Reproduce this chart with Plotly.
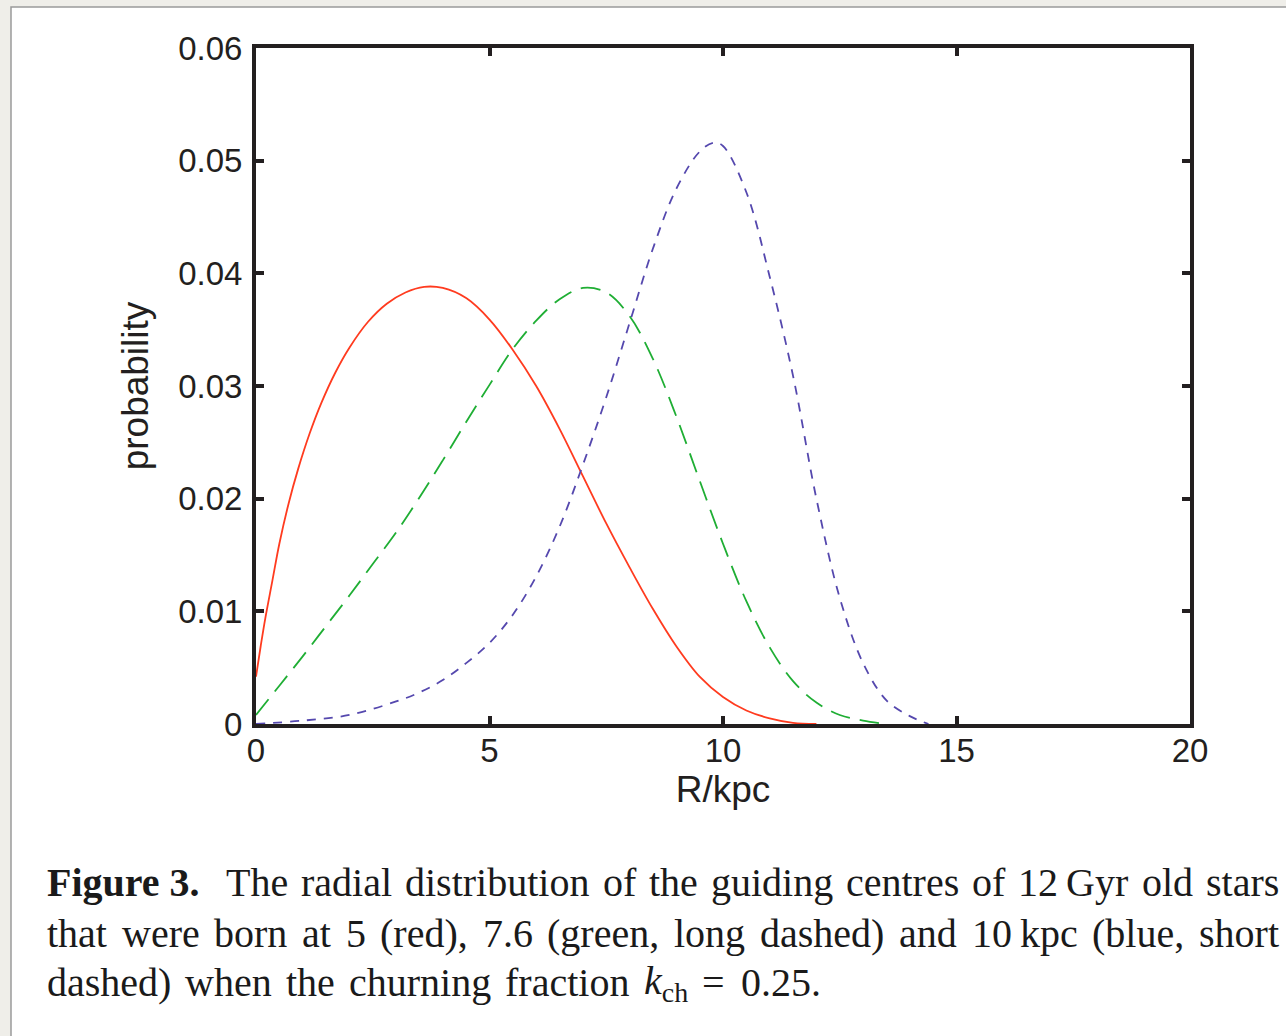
import plotly.graph_objects as go

# ---------------- data ----------------
red_R = [0.0, 0.1, 0.2, 0.35, 0.5, 0.7, 0.9, 1.15, 1.4, 1.7, 2.0, 2.4, 2.8, 3.2, 3.6, 4.0,
         4.5, 5.0, 5.5, 6.0, 6.5, 7.0, 7.5, 8.0, 8.5, 9.0, 9.5, 10.0, 10.5, 11.0, 11.5, 12.0]
red_p = [0.0042, 0.0069, 0.0094, 0.0127, 0.0160, 0.0196, 0.0226, 0.0258, 0.0285, 0.0312,
         0.0334, 0.0357, 0.0373, 0.0383, 0.0388, 0.0387, 0.0378, 0.0359, 0.0332, 0.0300,
         0.0262, 0.0220, 0.0178, 0.0139, 0.0102, 0.0069, 0.0042, 0.0024, 0.0012, 0.0005,
         0.0001, 0.0]

green_R = [0.0, 0.5, 1.0, 1.5, 2.0, 2.5, 3.0, 3.5, 4.0, 4.5, 5.0, 5.5, 6.0, 6.5, 7.0, 7.5,
           8.0, 8.5, 9.0, 9.5, 10.0, 10.5, 11.0, 11.5, 12.0, 12.5, 13.0, 13.5]
green_p = [0.0008, 0.0034, 0.0060, 0.0087, 0.0114, 0.0142, 0.0170, 0.0201, 0.0234, 0.0268,
           0.0301, 0.0333, 0.0358, 0.0377, 0.0387, 0.0383, 0.0362, 0.0324, 0.0273, 0.0216,
           0.0160, 0.0109, 0.0068, 0.0038, 0.0019, 0.0008, 0.0003, 0.0]

blue_R = [0.0, 1.0, 2.0, 3.0, 3.5, 4.0, 4.5, 5.0, 5.5, 6.0, 6.5, 7.0, 7.5, 8.0, 8.5, 9.0,
          9.5, 9.8, 10.0, 10.5, 11.0, 11.5, 12.0, 12.5, 13.0, 13.5, 14.0, 14.4]
blue_p = [0.0, 0.0003, 0.0008, 0.0020, 0.0028, 0.0039, 0.0054, 0.0072, 0.0097, 0.0131,
          0.0175, 0.0230, 0.0290, 0.0356, 0.0422, 0.0475, 0.0508, 0.0516, 0.0513, 0.0472,
          0.0397, 0.0309, 0.0200, 0.0112, 0.0054, 0.0021, 0.0007, 0.0]

x_tickvals = [0, 5, 10, 15, 20]
x_ticktext = ["0", "5", "10", "15", "20"]
y_tickvals = [0, 0.01, 0.02, 0.03, 0.04, 0.05, 0.06]
y_ticktext = ["0", "0.01", "0.02", "0.03", "0.04", "0.05", "0.06"]

x_title = "R/kpc"
y_title = "probability"

caption_line1 = [("<b>Figure 3.</b>", "Figure 3.", True), "The", "radial", "distribution", "of",
                 "the", "guiding", "centres", "of", "12\u2009Gyr", "old", "stars"]
caption_line2 = ["that", "were", "born", "at", "5", "(red),", "7.6", "(green,", "long",
                 "dashed)", "and", "10\u2009kpc", "(blue,", "short"]
caption_line3 = ["dashed)", "when", "the", "churning", "fraction",
                 ("<i>k</i><sub>ch</sub>", 1.12), "=", "0.25."]

# ---------------- layout geometry ----------------
W, H = 1286, 1036
ML, MR, MT, MB = 256, 96, 48, 312
PW = W - ML - MR
PH = H - MT - MB
AX = "#231f20"


def px2paper_x(px):
    return (px - ML) / PW


def px2paper_y(py):
    return (H - MB - py) / PH


# Times (Liberation Serif) advance widths in em
TIMES = {' ': .25, '(': .333, ')': .333, ',': .25, '.': .25, '=': .564,
         'a': .444, 'b': .5, 'c': .444, 'd': .5, 'e': .444, 'f': .333, 'g': .5, 'h': .5,
         'i': .278, 'k': .5, 'l': .278, 'n': .5, 'o': .5, 'p': .5, 'r': .333, 's': .389,
         't': .278, 'u': .5, 'w': .722, 'y': .5, 'G': .722, 'T': .611, '\u2009': .2}
TIMES_BOLD = {'F': .611, 'i': .278, 'g': .5, 'u': .556, 'r': .444, 'e': .444, ' ': .25,
              '3': .5, '.': .25}

CAP_SIZE = 40
CAP_FONT = dict(family="Liberation Serif, Times New Roman, serif", size=CAP_SIZE, color="#1a1a1a")
X_LEFT, X_RIGHT = 46, 1278


def width(s, bold=False):
    tab = TIMES_BOLD if bold else TIMES
    return sum(tab.get(c, .5) for c in s) * CAP_SIZE


annotations = []


def place_line(words, y_mid, justify=True, gap=14.0, extra_first=0.0, gaps=None):
    items = []
    for w in words:
        if isinstance(w, tuple):
            if isinstance(w[1], float):
                items.append((w[0], w[1] * CAP_SIZE))
            else:
                items.append((w[0], width(w[1], w[2])))
        else:
            items.append((w, width(w)))
    total = sum(wd for _, wd in items)
    n_gaps = len(items) - 1 + extra_first
    if justify:
        gap = (X_RIGHT - X_LEFT - total) / n_gaps
    x = X_LEFT
    for i, (txt, wd) in enumerate(items):
        annotations.append(dict(text=txt, x=px2paper_x(x), y=px2paper_y(y_mid),
                                xref="paper", yref="paper", xanchor="left", yanchor="middle",
                                showarrow=False, font=CAP_FONT, borderpad=0))
        g = gaps[i] if gaps is not None and i < len(gaps) else gap
        x += wd + g * (1 + (extra_first if i == 0 else 0))


place_line(caption_line1, 882, justify=True, extra_first=1.0)
place_line(caption_line2, 933, justify=True)
place_line(caption_line3, 983, justify=False, gap=14.0, gaps=[14, 14, 14, 14, 14, 14, 16])

fig = go.Figure()
fig.add_trace(go.Scatter(x=red_R, y=red_p, mode="lines", line_shape="spline",
                         line=dict(color="#ff3b1f", width=1.8), showlegend=False))
fig.add_trace(go.Scatter(x=green_R, y=green_p, mode="lines", line_shape="spline",
                         line=dict(color="#1fae34", width=1.8, dash="20px,10px"), showlegend=False))
fig.add_trace(go.Scatter(x=blue_R, y=blue_p, mode="lines", line_shape="spline",
                         line=dict(color="#5548ae", width=1.8, dash="9px,8px"), showlegend=False))

tick_font = dict(family="Liberation Sans, Arial, sans-serif", size=33, color=AX)
title_font = dict(family="Liberation Sans, Arial, sans-serif", size=37, color=AX)

fig.update_layout(
    width=W, height=H,
    margin=dict(l=ML, r=MR, t=MT, b=MB, pad=0),
    paper_bgcolor="#efeee9",
    plot_bgcolor="white",
    annotations=annotations,
    shapes=[dict(type="rect", xref="paper", yref="paper",
                 x0=px2paper_x(11), x1=px2paper_x(W + 20),
                 y0=px2paper_y(H + 20), y1=px2paper_y(7),
                 line=dict(color="#9a9a9a", width=1.5), fillcolor="white", layer="below")],
)
fig.update_xaxes(range=[0, 20], tickvals=x_tickvals, ticktext=x_ticktext,
                 showline=True, linewidth=4, linecolor=AX, mirror="ticks",
                 ticks="inside", ticklen=8, tickwidth=4, tickcolor=AX,
                 showgrid=False, zeroline=False, tickfont=tick_font, ticklabelstandoff=-6,
                 title=dict(text=x_title, font=title_font, standoff=0))
fig.update_yaxes(range=[0, 0.06], tickvals=y_tickvals, ticktext=y_ticktext,
                 showline=True, linewidth=4, linecolor=AX, mirror="ticks",
                 ticks="inside", ticklen=8, tickwidth=4, tickcolor=AX,
                 showgrid=False, zeroline=False, tickfont=tick_font, ticklabelstandoff=3,
                 title=dict(text=y_title, font=title_font, standoff=19))

fig.write_html("out.html")
